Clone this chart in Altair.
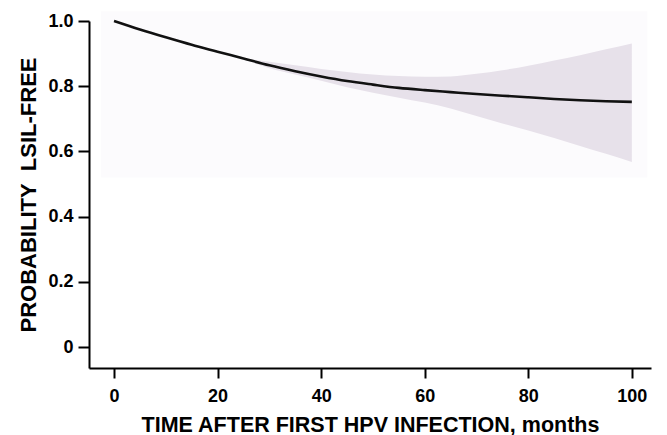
import altair as alt
import pandas as pd

# --- data ---
t_line = [0, 5, 10, 15, 20, 25, 30, 35, 40, 45, 50, 55, 60, 65, 70, 75, 80, 85, 90, 95, 100]
p_line = [1.000, 0.974, 0.950, 0.927, 0.906, 0.885, 0.864, 0.846, 0.830, 0.816, 0.805,
          0.795, 0.788, 0.782, 0.776, 0.771, 0.766, 0.761, 0.757, 0.754, 0.752]

t_band = [25, 30, 35, 40, 45, 50, 55, 60, 65, 70, 75, 80, 85, 90, 95, 100]
upper = [0.886, 0.875, 0.864, 0.853, 0.844, 0.836, 0.831, 0.829, 0.830, 0.838, 0.849,
         0.863, 0.879, 0.895, 0.913, 0.931]
lower = [0.884, 0.855, 0.836, 0.817, 0.797, 0.780, 0.765, 0.750, 0.732, 0.709, 0.686,
         0.664, 0.641, 0.617, 0.593, 0.568]

x_ticks = [0, 20, 40, 60, 80, 100]
y_ticks = [0, 0.2, 0.4, 0.6, 0.8, 1.0]

line_df = pd.DataFrame({"t": t_line, "p": p_line})
band_df = pd.DataFrame({"t": t_band, "lo": lower, "hi": upper})
bg_df = pd.DataFrame({"x0": [-2.5], "x1": [103.0], "y0": [0.52], "y1": [1.03]})

FONT = "Liberation Sans Narrow, Liberation Sans, Arial, sans-serif"

xscale = alt.Scale(domain=[-4.83, 103.7], nice=False, zero=False)
yscale = alt.Scale(domain=[-0.064, 1.0], nice=False, zero=False)

xaxis = alt.Axis(values=x_ticks, title="TIME AFTER FIRST HPV INFECTION, months",
                 grid=False, domainColor="black", domainWidth=2, tickColor="black",
                 tickWidth=2, tickSize=10, labelFont=FONT, labelFontSize=18,
                 labelFontWeight="bold", labelColor="black", labelPadding=9,
                 titleFont=FONT, titleFontSize=21.5, titleFontWeight="bold",
                 titleColor="black", titlePadding=9)
yaxis = alt.Axis(values=y_ticks, title="PROBABILITY\u00a0\u00a0LSIL-FREE",
                 labelExpr="datum.value == 0 ? '0' : format(datum.value, '.1f')",
                 grid=False, domainColor="black", domainWidth=2, tickColor="black",
                 tickWidth=2, tickSize=11, labelFont=FONT, labelFontSize=18,
                 labelFontWeight="bold", labelColor="black", labelPadding=5,
                 titleFont=FONT, titleFontSize=22, titleFontWeight="bold",
                 titleColor="black", titlePadding=7)

bg = alt.Chart(bg_df).mark_rect(color="#fcfbfd").encode(
    x=alt.X("x0:Q", scale=xscale, axis=xaxis),
    x2="x1:Q",
    y=alt.Y("y0:Q", scale=yscale, axis=yaxis),
    y2="y1:Q",
)

band = alt.Chart(band_df).mark_area(color="#e7e1ea", opacity=1, interpolate="monotone").encode(
    x=alt.X("t:Q", scale=xscale),
    y=alt.Y("lo:Q", scale=yscale),
    y2="hi:Q",
)

line = alt.Chart(line_df).mark_line(color="#111111", strokeWidth=2.6, interpolate="monotone").encode(
    x=alt.X("t:Q", scale=xscale),
    y=alt.Y("p:Q", scale=yscale),
)

chart = alt.layer(bg, band, line).properties(
    width=562, height=347,
    autosize=alt.AutoSizeParams(type="none"),
    padding={"left": 89, "top": 21, "right": 16, "bottom": 67},
    background="white",
).configure_view(stroke=None)

chart.save("out.html", embed_options={"renderer": "svg", "actions": False})
